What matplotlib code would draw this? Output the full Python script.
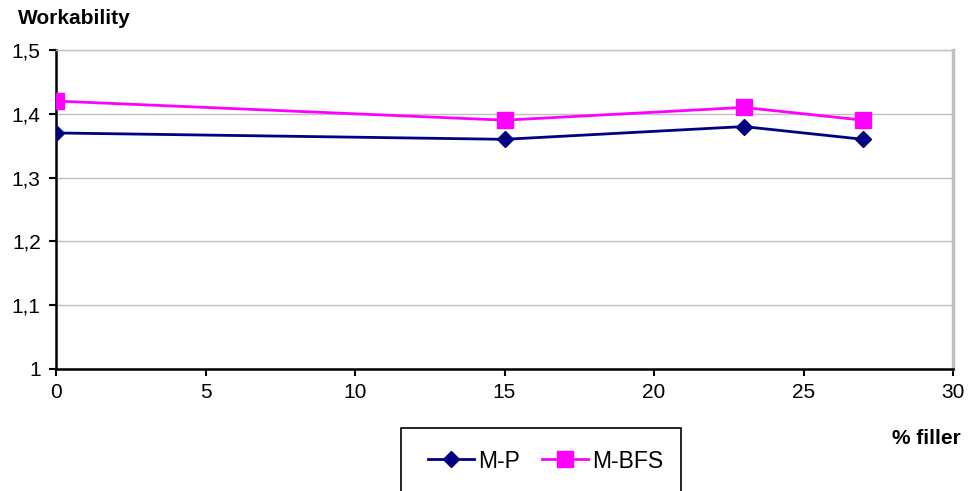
import matplotlib
matplotlib.use("Agg")
import matplotlib.pyplot as plt
from matplotlib.patches import Rectangle

plt.rcParams['font.family'] = ['Liberation Sans', 'DejaVu Sans']

filler = [0, 15, 23, 27]
m_p = [1.37, 1.36, 1.38, 1.36]
m_bfs = [1.42, 1.39, 1.41, 1.39]
x_ticks = [0, 5, 10, 15, 20, 25, 30]
y_ticks = [1.0, 1.1, 1.2, 1.3, 1.4, 1.5]
y_labels = ['1', '1,1', '1,2', '1,3', '1,4', '1,5']

fig = plt.figure(figsize=(9.69, 4.91), dpi=100)
ax = fig.add_axes([56 / 969, 1 - 369 / 491, (953 - 56) / 969, (369 - 50) / 491])

ax.plot(filler, m_p, color='#000080', lw=2, marker='D', ms=8, label='M-P', zorder=3)
ax.plot(filler, m_bfs, color='#FF00FF', lw=2, marker='s', ms=11, label='M-BFS', zorder=3)

ax.set_xlim(0, 30)
ax.set_ylim(1.0, 1.5)
ax.set_xticks(x_ticks)
ax.set_yticks(y_ticks)
ax.set_yticklabels(y_labels)
ax.tick_params(axis='both', labelsize=15, direction='out', length=5, width=1.5, color='black')
ax.tick_params(axis='y', pad=6)
ax.tick_params(axis='x', pad=5)

ax.grid(axis='y', color='#C0C0C0', lw=1)
ax.set_axisbelow(True)
for side in ('left', 'bottom'):
    ax.spines[side].set_color('black')
    ax.spines[side].set_linewidth(1.8)
ax.spines['top'].set_color('#C0C0C0')
ax.spines['top'].set_linewidth(1)
ax.spines['right'].set_color('#C0C0C0')
ax.spines['right'].set_linewidth(2.5)

fig.text(18 / 969, 1 - 19 / 491, 'Workability', fontsize=15, fontweight='bold', va='center', ha='left')
fig.text(961 / 969, 1 - 438 / 491, '% filler', fontsize=15, fontweight='bold', va='center', ha='right')

# legend frame reaching past the lower edge
fig.patches.append(Rectangle((401 / 969, 1 - 500 / 491), 280 / 969, 72 / 491,
                             transform=fig.transFigure, fill=False, ec='black', lw=1.2))
handles, labels = ax.get_legend_handles_labels()
fig.legend(handles, labels, loc='center left', bbox_to_anchor=(428 / 969, 1 - 461 / 491),
           ncol=2, frameon=False, fontsize=16.5, handlelength=2.0, columnspacing=0.95,
           handletextpad=0.2, borderaxespad=0, borderpad=0)

fig.savefig('out.png', dpi=100)
